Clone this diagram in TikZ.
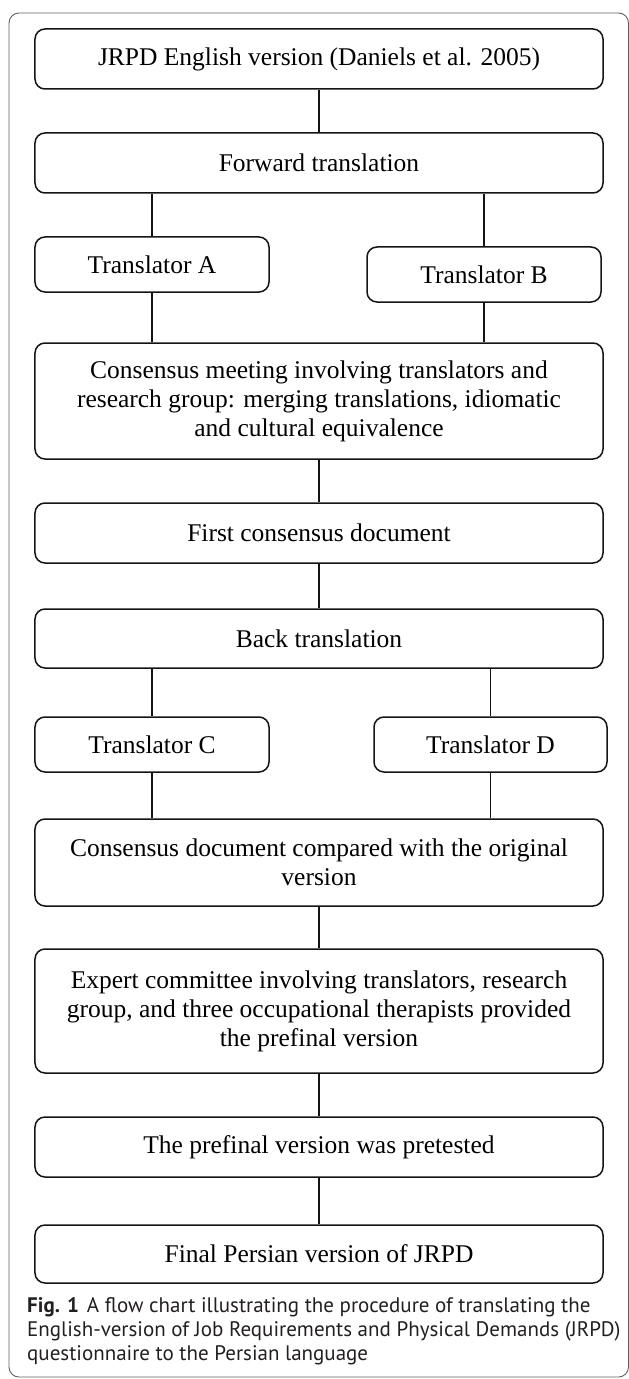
\documentclass[tikz,border=0pt]{standalone}
\usepackage{fontspec}
\setmainfont{Liberation Serif}
\newfontfamily\capfont{PT Sans}
\usepackage{xcolor}
\usepackage{tikz}
\usetikzlibrary{positioning,calc}
\definecolor{flowblack}{RGB}{20,20,20}
\definecolor{framegray}{RGB}{95,95,95}
\definecolor{captext}{RGB}{35,31,32}
\newcommand{\flowfs}{\fontsize{25.5bp}{29bp}\selectfont}
\newcommand{\capfs}{\capfont\fontsize{21bp}{24bp}\selectfont}

\begin{document}
\begin{tikzpicture}[x=1bp, y=-1bp,
stg/.style={draw=flowblack, rounded corners=10bp, line width=1.5bp,
minimum width=568bp, minimum height=60bp, inner sep=0pt, align=center, font=\flowfs},
trn/.style={stg, minimum width=234bp, minimum height=55bp},
link/.style={line width=1.5bp, draw=flowblack}
]
\useasboundingbox (0,0) rectangle (629,1379);

% outer frame of the figure
\draw[framegray, line width=0.9bp, rounded corners=10bp] (9,13) rectangle (628.5,1377);

\node[stg] (i1) at (319,59) {JRPD English version (Daniels et al. 2005)};
\node[stg] (i2) at (319,163) {Forward translation};
\node[trn] (ta) at (152,264.5) {Translator A};
\node[trn] (tb) at (484,274.5) {Translator B};
\node[stg, minimum height=116bp] (i3) at (319,401)
{Consensus meeting involving translators and\\
research group: merging translations, idiomatic\\
and cultural equivalence};
\node[stg] (i4) at (319,533) {First consensus document};
\node[stg, minimum height=59bp] (i5) at (319,638.5) {Back translation};
\node[trn] (tc) at (152,744.5) {Translator C};
\node[trn, minimum width=233bp] (td) at (490.5,744.5) {Translator D};
\node[stg, minimum height=87bp] (i6) at (319,862.5)
{Consensus document compared with the original\\
version};
\node[stg, minimum height=124bp] (i7) at (319,1011)
{Expert committee involving translators, research\\
group, and three occupational therapists provided\\
the prefinal version};
\node[stg] (i8) at (319,1147) {The prefinal version was pretested};
\node[stg, minimum height=58bp] (i9) at (319,1254) {Final Persian version of JRPD};

\draw[link] (i1.south) -- (i2.north);
\draw[link] (ta.north |- i2.south) -- (ta.north);
\draw[link] (tb.north |- i2.south) -- (tb.north);
\draw[link] (ta.south) -- (ta.south |- i3.north);
\draw[link] (tb.south) -- (tb.south |- i3.north);
\draw[link] (i3.south) -- (i4.north);
\draw[link] (i4.south) -- (i5.north);
\draw[link] (tc.north |- i5.south) -- (tc.north);
\draw[link] (td.north |- i5.south) -- (td.north);
\draw[link] (tc.south) -- (tc.south |- i6.north);
\draw[link] (td.south) -- (td.south |- i6.north);
\draw[link] (i6.south) -- (i7.north);
\draw[link] (i7.south) -- (i8.north);
\draw[link] (i8.south) -- (i9.north);

\node[anchor=north west, inner sep=0pt, align=left, font=\capfs, text=captext] (cap) at (27,1297)
{\textbf{Fig. 1}\hspace{8bp}A flow chart illustrating the procedure of translating the\\
English-version of Job Requirements and Physical Demands (JRPD)\\
questionnaire to the Persian language};

\end{tikzpicture}
\end{document}
